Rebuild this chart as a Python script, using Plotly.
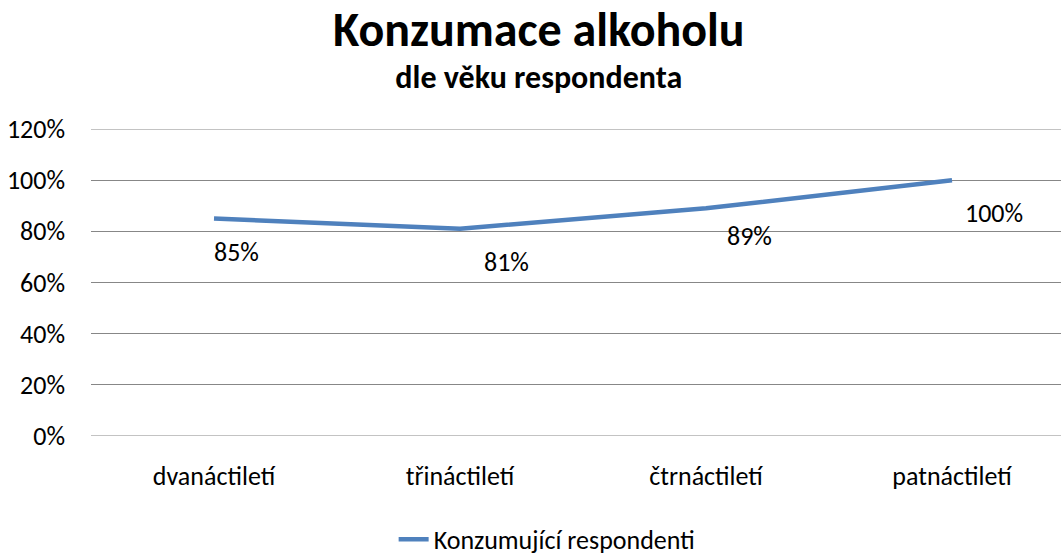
import plotly.graph_objects as go

categories = ["dvanáctiletí", "třináctiletí", "čtrnáctiletí", "patnáctiletí"]
values = [0.85, 0.81, 0.89, 1.00]
labels = ["85%", "81%", "89%", "100%"]
series_name = "Konzumující respondenti"
yticks = [0, 0.2, 0.4, 0.6, 0.8, 1.0, 1.2]
yticklabels = ["0%", "20%", "40%", "60%", "80%", "100%", "120%"]

# label placement (pixels, style only)
label_dx = [22, 46, 43, 42]
label_dy = [-33, -33, -28, -33]

FONT = "Carlito, Calibri, Lato, sans-serif"
BLUE = "#4F81BD"
GRID = "#878787"

fig = go.Figure()
fig.add_trace(go.Scatter(
    x=categories, y=values, mode="lines", name=series_name,
    line=dict(color=BLUE, width=4.5),
))

for c, v, t, dx, dy in zip(categories, values, labels, label_dx, label_dy):
    fig.add_annotation(x=c, y=v, text=t, showarrow=False,
                       xshift=dx, yshift=dy,
                       font=dict(family=FONT, size=26, color="#000000"))

fig.add_annotation(xref="paper", yref="paper", x=0.462, y=1.2606,
                   text="<span style='font-size:48px'><b>Konzumace alkoholu</b></span>"
                        "<br><b>dle věku respondenta</b>",
                   showarrow=False, xanchor="center", yanchor="middle",
                   font=dict(family=FONT, size=32, color="#000000"))

fig.update_layout(
    width=1061, height=557,
    margin=dict(l=91, r=0, t=129, b=121, autoexpand=False),
    paper_bgcolor="white", plot_bgcolor="white",
    font=dict(family=FONT, color="#000000"),
    showlegend=True,
    legend=dict(orientation="h", x=0.312, xanchor="left", y=-0.337, yanchor="middle",
                font=dict(family=FONT, size=26, color="#000000"),
                bgcolor="rgba(0,0,0,0)"),
    xaxis=dict(
        type="category", range=[-0.5, 3.443], showgrid=False, zeroline=False,
        showline=False, ticks="", ticklabelstandoff=22,
        tickfont=dict(family=FONT, size=26, color="#000000"),
    ),
    yaxis=dict(
        range=[0, 1.2], tickvals=yticks, ticktext=yticklabels,
        showgrid=True, gridcolor=GRID, gridwidth=1, zeroline=False,
        showline=False, ticks="", ticklabelstandoff=25,
        tickfont=dict(family=FONT, size=26, color="#000000"),
    ),
)
fig.add_shape(type="line", xref="paper", yref="y", x0=0, x1=1, y0=0, y1=0,
              line=dict(color=GRID, width=1))
fig.add_shape(type="line", xref="paper", yref="y", x0=0, x1=1, y0=1.2, y1=1.2,
              line=dict(color=GRID, width=1))

fig.write_html("out.html", config={"displayModeBar": False},
               post_script="document.body.style.margin='0';document.body.style.overflow='hidden';")
